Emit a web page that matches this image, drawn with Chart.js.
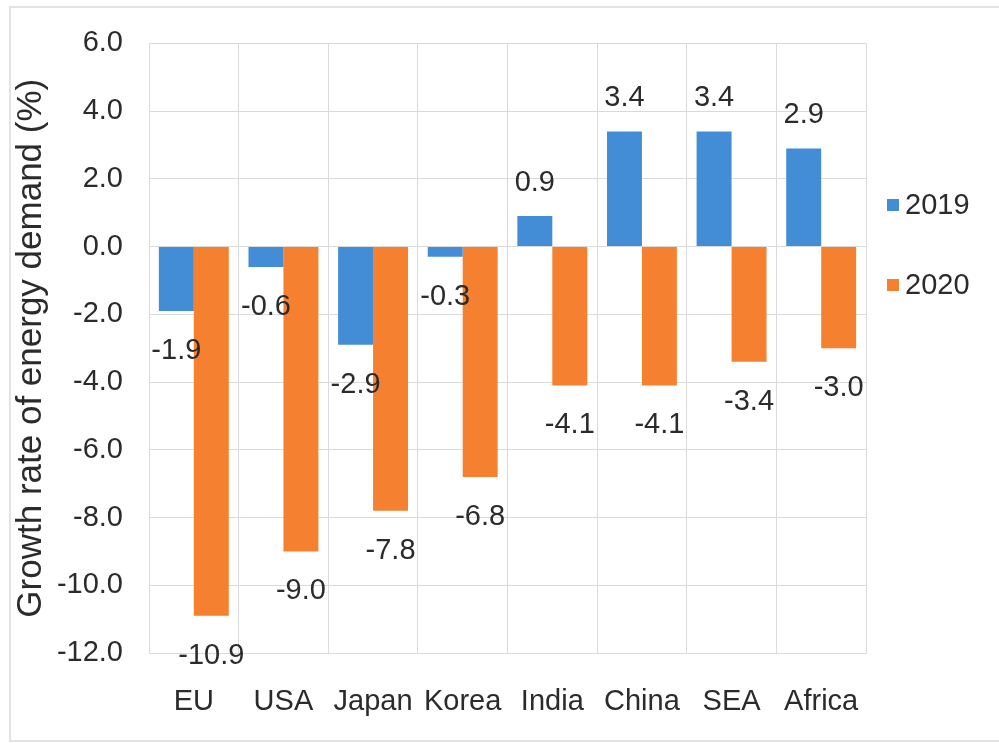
<!DOCTYPE html>
<html>
<head>
<meta charset="utf-8">
<script src="https://cdn.jsdelivr.net/npm/chart.js@4.4.1/dist/chart.umd.min.js"></script>
<style>
  html, body { margin: 0; padding: 0; background: #fff; }
  #wrap { width: 999px; height: 743px; position: relative; }
</style>
</head>
<body>
<div id="wrap"><canvas id="demandChart" width="999" height="743"></canvas></div>
<script>
const categories = ["EU", "USA", "Japan", "Korea", "India", "China", "SEA", "Africa"];
const growth2019 = [-1.9, -0.6, -2.9, -0.3, 0.9, 3.4, 3.4, 2.9];
const growth2020 = [-10.9, -9.0, -7.8, -6.8, -4.1, -4.1, -3.4, -3.0];
const seriesNames = ["2019", "2020"];
const yMin = -12;
const yMax = 6;
const yStep = 2;

const blue = "#438cd6";
const orange = "#f5802f";
const textColor = "#2b2b2b";
const gridColor = "#dadada";
const fontFamily = "'Liberation Sans', Arial, sans-serif";

// light frame around the whole figure
const framePlugin = {
  id: "frame",
  beforeDraw(chart) {
    const ctx = chart.ctx;
    ctx.save();
    ctx.strokeStyle = "#e3e3e3";
    ctx.lineWidth = 2;
    ctx.strokeRect(10, 7, 1000, 734);
    ctx.restore();
  },
};

// value printed past the end of each bar
const valueLabels = {
  id: "valueLabels",
  afterDatasetsDraw(chart) {
    const ctx = chart.ctx;
    ctx.save();
    ctx.font = "29px " + fontFamily;
    ctx.fillStyle = textColor;
    ctx.textAlign = "center";
    ctx.textBaseline = "middle";
    chart.data.datasets.forEach((ds, i) => {
      chart.getDatasetMeta(i).data.forEach((bar, j) => {
        const v = ds.data[j];
        const y = v < 0 ? bar.y + 40 : bar.y - 33;
        ctx.fillText(v.toFixed(1), bar.x, y);
      });
    });
    ctx.restore();
  },
};

// legend stacked at the right of the plot
const sideLegend = {
  id: "sideLegend",
  afterDraw(chart) {
    const ctx = chart.ctx;
    const rows = [205, 285];
    ctx.save();
    ctx.font = "29px " + fontFamily;
    ctx.textBaseline = "middle";
    chart.data.datasets.forEach((ds, i) => {
      ctx.fillStyle = ds.backgroundColor;
      ctx.fillRect(887, rows[i] - 6, 12, 12);
      ctx.fillStyle = textColor;
      ctx.fillText(ds.label, 905, rows[i] + 1);
    });
    ctx.restore();
  },
};

new Chart(document.getElementById("demandChart"), {
  type: "bar",
  data: {
    labels: categories,
    datasets: [
      {
        label: seriesNames[0],
        data: growth2019,
        backgroundColor: blue,
        barPercentage: 1,
        categoryPercentage: 0.78,
      },
      {
        label: seriesNames[1],
        data: growth2020,
        backgroundColor: orange,
        barPercentage: 1,
        categoryPercentage: 0.78,
      },
    ],
  },
  options: {
    responsive: false,
    animation: false,
    layout: { padding: { top: 40, left: 10, right: 133, bottom: 0 } },
    plugins: {
      legend: { display: false },
      tooltip: { enabled: false },
    },
    scales: {
      x: {
        grid: { color: gridColor, drawTicks: false, offset: true },
        border: { color: gridColor },
        ticks: {
          color: textColor,
          font: { family: fontFamily, size: 29 },
          padding: 32,
          maxRotation: 0,
        },
        afterFit(scale) { scale.height = 90; },
      },
      y: {
        min: yMin,
        max: yMax,
        grid: { color: gridColor, drawTicks: false },
        border: { color: gridColor },
        ticks: {
          stepSize: yStep,
          color: textColor,
          font: { family: fontFamily, size: 29 },
          padding: 26,
          callback: (v) => v.toFixed(1),
        },
        title: {
          display: true,
          text: "Growth rate of energy demand (%)",
          color: textColor,
          font: { family: fontFamily, size: 35 },
          padding: 0,
        },
        afterFit(scale) { scale.width = 139; },
      },
    },
  },
  plugins: [framePlugin, valueLabels, sideLegend],
});
</script>
</body>
</html>
